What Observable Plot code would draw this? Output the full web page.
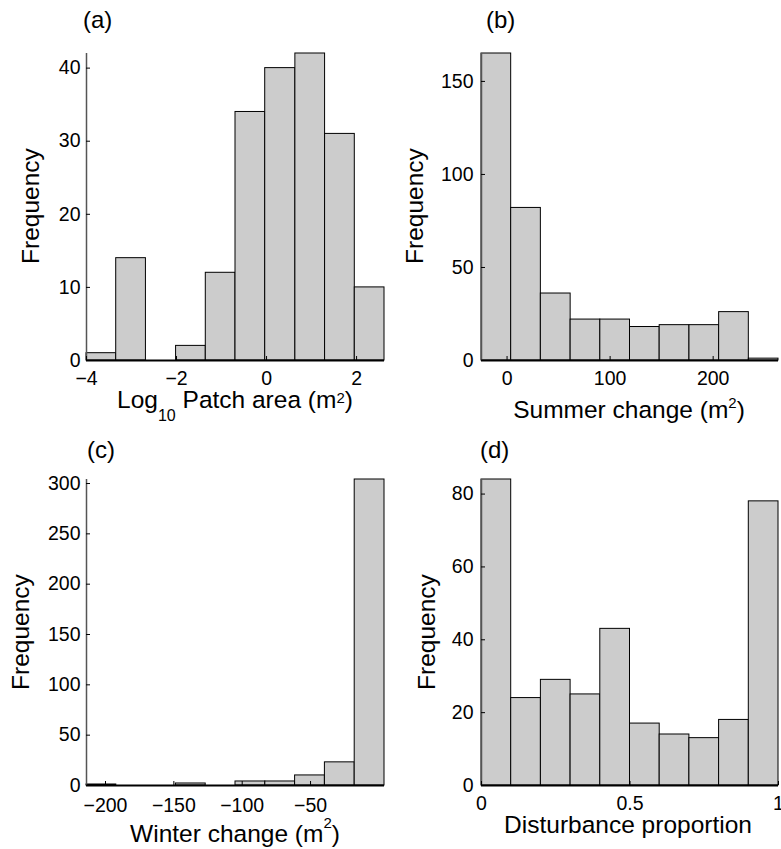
<!DOCTYPE html>
<html><head><meta charset="utf-8">
<script src="https://cdn.jsdelivr.net/npm/d3@7"></script>
<script src="https://cdn.jsdelivr.net/npm/@observablehq/plot@0.6"></script>
<style>
body{margin:0;background:#fff;}
#fig{position:relative;width:781px;height:849px;overflow:hidden;background:#fff;font-family:"Liberation Sans",Arial,Helvetica,sans-serif;color:#000;}
.panel{position:absolute;}
.panel svg{overflow:visible;}
.plab{position:absolute;font-size:24px;line-height:24px;white-space:nowrap;}
.ylab{position:absolute;font-size:24.5px;line-height:24.5px;white-space:nowrap;transform:translate(-50%,-50%) rotate(-90deg);}
.xlab{position:absolute;width:400px;text-align:center;font-size:24.5px;line-height:18px;white-space:nowrap;}
.sub{position:relative;font-size:16px;top:13px;}
.sup{position:relative;font-size:15px;}
</style></head><body><div id="fig"></div>
<script>
// ---- data ----
const aEdges  = [-4.0, -3.34, -2.68, -2.01, -1.35, -0.69, -0.03, 0.64, 1.30, 1.96, 2.62];
const aCounts = [1, 14, 0, 2, 12, 34, 40, 42, 31, 10];
const aXTicks = [-4, -2, 0, 2];
const aYTicks = [0, 10, 20, 30, 40];

const bEdges  = [-24.8, 4.0, 32.8, 61.7, 90.5, 119.3, 148.1, 177.0, 205.8, 234.6, 263.4];
const bCounts = [165, 82, 36, 22, 22, 18, 19, 19, 26, 1];
const bXTicks = [0, 100, 200];
const bYTicks = [0, 50, 100, 150];

const cEdges  = [-213.9, -192.1, -170.3, -148.5, -126.7, -104.9, -83.1, -61.3, -39.5, -17.7, 4.1];
const cCounts = [1, 0, 0, 2, 0, 4, 4, 10, 23, 304];
const cXTicks = [-200, -150, -100, -50];
const cYTicks = [0, 50, 100, 150, 200, 250, 300];

const dEdges  = [0, 0.1, 0.2, 0.3, 0.4, 0.5, 0.6, 0.7, 0.8, 0.9, 1.0];
const dCounts = [84, 24, 29, 25, 43, 17, 14, 13, 18, 78];
const dXTicks = [0, 0.5, 1];
const dYTicks = [0, 20, 40, 60, 80];

const FONT = '"Liberation Sans", Arial, Helvetica, sans-serif';
const fig = document.getElementById("fig");
const fmt = d3.format("~g");

function histPanel(o) {
  const data = o.counts.map((c, i) => ({x1: o.edges[i], x2: o.edges[i + 1], n: c}));
  const xDomain = [o.edges[0], o.edges[o.edges.length - 1]];
  const yDomain = [0, d3.max(o.counts)];
  const svg = Plot.plot({
    width: o.width, height: o.height,
    marginLeft: o.mL, marginRight: o.mR, marginTop: o.mT, marginBottom: o.mB,
    style: {fontFamily: FONT, fontSize: "19.5px", color: "#000", background: "transparent", overflow: "visible"},
    x: {domain: xDomain},
    y: {domain: yDomain},
    marks: [
      Plot.rectY(data, {x1: "x1", x2: "x2", y: "n", fill: "#cccccc", stroke: "#000", strokeWidth: 1}),
      Plot.ruleX([xDomain[0]], {stroke: "#555", strokeWidth: 1.5}),
      Plot.ruleY([0], {stroke: "#000", strokeWidth: 2}),
      Plot.axisY(o.yTicks, {tickSize: -4, fill: "none", label: null}),
      Plot.axisY(o.yTicks, {tickSize: 0, tickPadding: o.yPad, label: null, fontSize: 19.5, tickFormat: fmt}),
      Plot.axisX(o.xTicks, {tickSize: -4, fill: "none", label: null}),
      Plot.axisX(o.xTicks, {tickSize: 0, tickPadding: o.xPad, label: null, fontSize: 19.5, tickFormat: fmt})
    ]
  });
  const div = document.createElement("div");
  div.className = "panel";
  div.style.left = o.left + "px";
  div.style.top = o.top + "px";
  div.style.width = o.width + "px";
  div.style.height = o.height + "px";
  div.appendChild(svg);
  fig.appendChild(div);
}

histPanel({edges: aEdges, counts: aCounts, xTicks: aXTicks, yTicks: aYTicks,
  left: 0, top: 0, width: 390, height: 380, mL: 86, mR: 6, mT: 53, mB: 20, yPad: 6, xPad: 11});
histPanel({edges: bEdges, counts: bCounts, xTicks: bXTicks, yTicks: bYTicks,
  left: 390, top: 0, width: 391, height: 380, mL: 91, mR: 3, mT: 53, mB: 20, yPad: 8, xPad: 11});
histPanel({edges: cEdges, counts: cCounts, xTicks: cXTicks, yTicks: cYTicks,
  left: 0, top: 420, width: 390, height: 385, mL: 86, mR: 6, mT: 59, mB: 20, yPad: 6, xPad: 12.5});
histPanel({edges: dEdges, counts: dCounts, xTicks: dXTicks, yTicks: dYTicks,
  left: 390, top: 420, width: 391, height: 385, mL: 91, mR: 3, mT: 59, mB: 20, yPad: 8, xPad: 11});

function addHTML(cls, html, styles) {
  const el = document.createElement("div");
  el.className = cls;
  el.innerHTML = html;
  Object.assign(el.style, styles);
  fig.appendChild(el);
}

// panel letters
addHTML("plab", "(a)", {left: "83px", top: "7.7px"});
addHTML("plab", "(b)", {left: "486px", top: "7.7px"});
addHTML("plab", "(c)", {left: "87px", top: "437.7px"});
addHTML("plab", "(d)", {left: "480px", top: "437.7px"});

// y labels
addHTML("ylab", "Frequency", {left: "31px", top: "206px"});
addHTML("ylab", "Frequency", {left: "414.5px", top: "206px"});
addHTML("ylab", "Frequency", {left: "21px", top: "632px"});
addHTML("ylab", "Frequency", {left: "426.5px", top: "632px"});

// x labels (line-height 18px: baseline sits ~17.5px below the box top)
addHTML("xlab", 'Log<span class="sub">10</span> Patch area (m<span class="sup" style="top:-5px">2</span>)', {left: (235 - 200) + "px", top: "390.5px"});
addHTML("xlab", 'Summer change (m<span class="sup" style="top:-10px">2</span>)', {left: (629 - 200) + "px", top: "400.5px"});
addHTML("xlab", 'Winter change (m<span class="sup" style="top:-14px">2</span>)', {left: (235 - 200) + "px", top: "824.5px"});
addHTML("xlab", 'Disturbance proportion', {left: (628 - 200) + "px", top: "815.5px"});
</script>
</body></html>
